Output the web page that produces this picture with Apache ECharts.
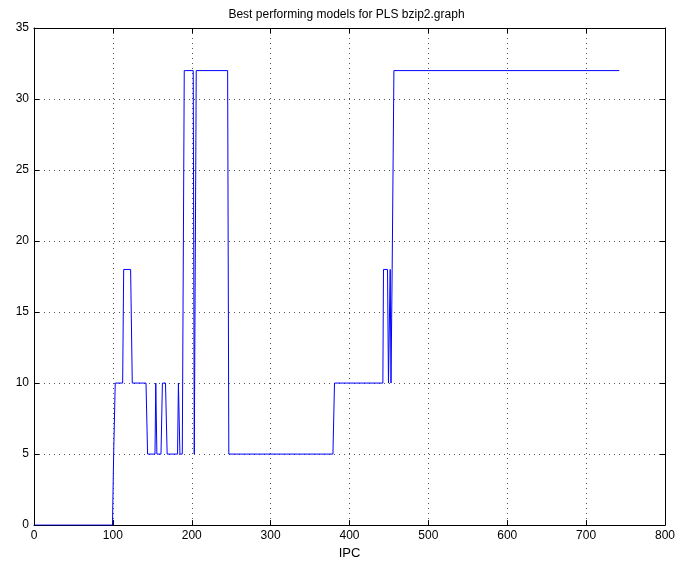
<!DOCTYPE html>
<html>
<head>
<meta charset="utf-8">
<script src="https://cdn.jsdelivr.net/npm/echarts@6/dist/echarts.min.js"></script>
<style>
html,body{margin:0;padding:0;background:#fff;}
#c{width:693px;height:565px;}
</style>
</head>
<body>
<div id="c"></div>
<script>
var titleText = "Best performing models for PLS bzip2.graph";
var xLabel = "IPC";
var ipc = [0, 99.5, 101, 103, 112.4, 113.7, 122.5, 124.6, 142, 144, 153.4, 154.4, 155.8, 161, 162.8, 166.7, 168.8, 182, 183.1, 185, 188, 190.5, 201.9, 203.2, 204.5, 205.7, 245.5, 247, 379, 381, 442.3, 443.1, 448.2, 449.4, 450.3, 451.6, 452.6, 453.4, 454.1, 454.6, 456.3, 742];
var model = [0, 0, 5, 10, 10, 18, 18, 10, 10, 5, 5, 10, 5, 5, 10, 10, 5, 5, 10, 5, 5, 32, 32, 5, 5, 32, 32, 5, 5, 10, 10, 18, 18, 10, 10, 18, 10, 10, 18, 18, 32, 32];
var xTicks = [0, 100, 200, 300, 400, 500, 600, 700, 800];
var yTicks = [0, 5, 10, 15, 20, 25, 30, 35];

var pts = ipc.map(function(x, i){ return [x, model[i]]; });
var font = "'Liberation Sans', Arial, sans-serif";
var chart = echarts.init(document.getElementById('c'), null, {renderer:'canvas'});
var gridLine = {show:true, lineStyle:{color:'#555', type:[1,4], width:1}};
var axisLine = {show:true, onZero:false, lineStyle:{color:'#000', width:1}};
var tick = {show:true, inside:true, length:5, lineStyle:{color:'#000'}};
chart.setOption({
  animation:false,
  backgroundColor:'#fff',
  title:{text:titleText, left:'center', top:4, textStyle:{fontFamily:font, fontSize:12, fontWeight:'normal', color:'#000'}},
  grid:{left:34, right:28, top:28, bottom:39},
  xAxis:[
    {type:'value', min:0, max:800, interval:100, position:'bottom',
     name:xLabel, nameLocation:'middle', nameGap:18, nameTextStyle:{fontFamily:font, fontSize:13, color:'#000'},
     axisLine:axisLine, axisTick:tick, splitLine:gridLine,
     axisLabel:{fontFamily:font, fontSize:12, color:'#000', margin:5}},
    {type:'value', min:0, max:800, interval:100, position:'top',
     axisLine:axisLine, axisTick:tick, splitLine:{show:false}, axisLabel:{show:false}}
  ],
  yAxis:[
    {type:'value', min:0, max:35, interval:5, position:'left',
     axisLine:axisLine, axisTick:tick, splitLine:gridLine,
     axisLabel:{fontFamily:font, fontSize:12, color:'#000', margin:5}},
    {type:'value', min:0, max:35, interval:5, position:'right',
     axisLine:axisLine, axisTick:tick, splitLine:{show:false}, axisLabel:{show:false}}
  ],
  series:[{type:'line', data:pts, showSymbol:false, symbol:'none', xAxisIndex:0, yAxisIndex:0,
    lineStyle:{color:'#0000ff', width:1}, itemStyle:{color:'#0000ff'}}]
});
</script>
</body>
</html>
